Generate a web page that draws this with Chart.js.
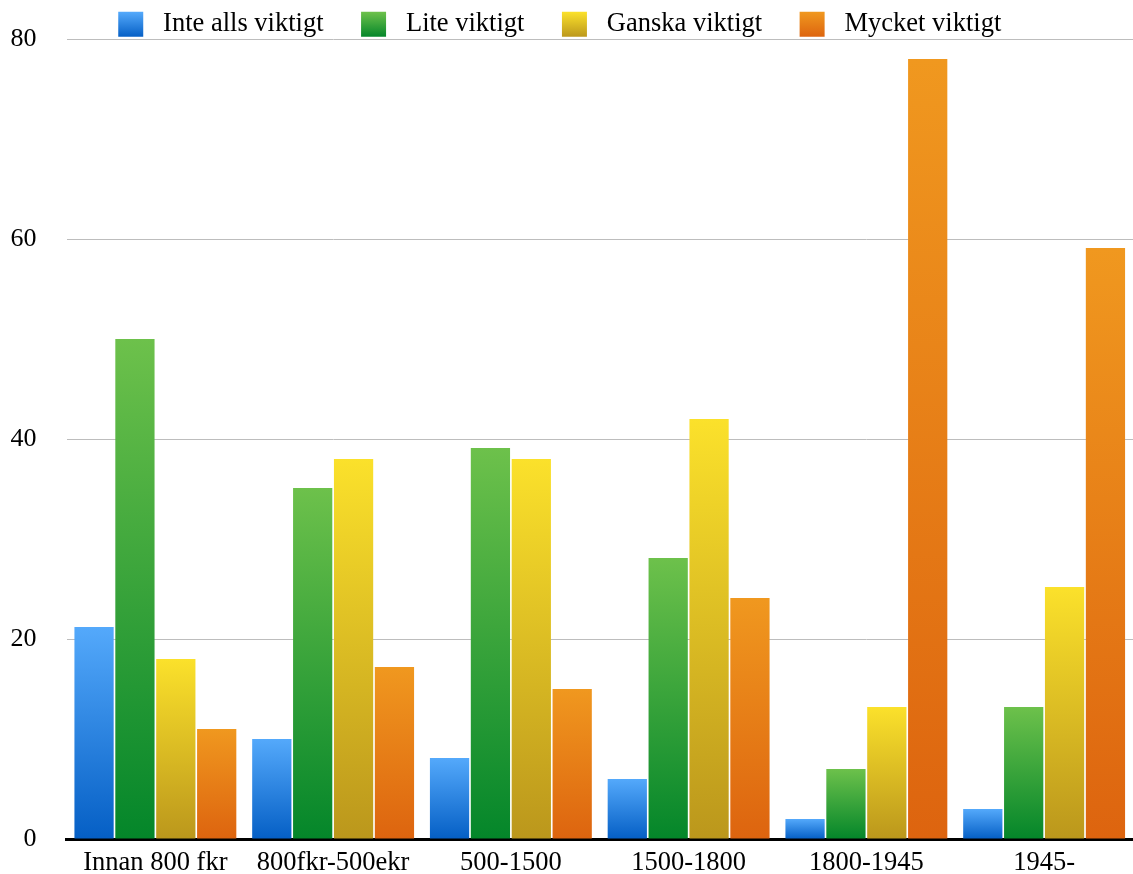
<!DOCTYPE html>
<html lang="sv">
<head>
<meta charset="utf-8">
<script src="https://cdn.jsdelivr.net/npm/chart.js@4.4.1/dist/chart.umd.min.js"></script>
<style>
  html, body { margin: 0; padding: 0; background: #fff; }
  #wrap { width: 1133px; height: 874px; }
</style>
</head>
<body>
<div id="wrap"><canvas id="chart" width="1133" height="874"></canvas></div>
<script>
const periods = ['Innan 800 fkr', '800fkr-500ekr', '500-1500', '1500-1800', '1800-1945', '1945-'];
const seriesNames = ['Inte alls viktigt', 'Lite viktigt', 'Ganska viktigt', 'Mycket viktigt'];
const inteAlls = [21.2, 10, 8.1, 6, 2, 3];
const lite = [50, 35.1, 39.1, 28.1, 7, 13.2];
const ganska = [18, 38, 38, 42, 13.2, 25.2];
const mycket = [11, 17.2, 15, 24.1, 78, 59.1];
const yTicks = [0, 20, 40, 60, 80];

// light top / dark bottom of each series
const shades = [
  ['#54a9fb', '#055fc5'],
  ['#6dc14b', '#04862a'],
  ['#fbe12b', '#bb971c'],
  ['#f0981f', '#dd640f']
];

const serif = '"Liberation Serif", "Times New Roman", serif';

// every bar gets its own gradient, from its top down to the zero line
function barFill(i) {
  return ctx => {
    const chart = ctx.chart;
    const y = chart.scales.y;
    if (ctx.type !== 'data' || !chart.chartArea || !y) return shades[i][1];
    const top = y.getPixelForValue(ctx.raw);
    const base = y.getPixelForValue(0);
    const g = chart.ctx.createLinearGradient(0, top, 0, base);
    g.addColorStop(0, shades[i][0]);
    g.addColorStop(1, shades[i][1]);
    return g;
  };
}

// legend boxes sit between y = 12 and 37
function legendLabels(chart) {
  return chart.data.datasets.map((ds, i) => {
    const g = chart.ctx.createLinearGradient(0, 12, 0, 37);
    g.addColorStop(0, shades[i][0]);
    g.addColorStop(1, shades[i][1]);
    return {
      text: ' ' + ds.label + '    ',
      fillStyle: g,
      strokeStyle: 'rgba(0,0,0,0)',
      lineWidth: 0,
      fontColor: '#000',
      hidden: false,
      datasetIndex: i
    };
  });
}

// drop the fixed strip Chart.js adds under a horizontal legend
const tightLegend = {
  id: 'tightLegend',
  afterInit(chart) {
    const legend = chart.legend;
    const fit = legend.fit;
    legend.fit = function () {
      fit.call(this);
      this.height -= 8.5;
    };
  }
};

const series = [inteAlls, lite, ganska, mycket];

new Chart(document.getElementById('chart'), {
  type: 'bar',
  data: {
    labels: periods,
    datasets: series.map((data, i) => ({
      label: seriesNames[i],
      data,
      backgroundColor: barFill(i),
      borderWidth: 0,
      categoryPercentage: 0.92,
      barPercentage: 0.96
    }))
  },
  options: {
    responsive: false,
    animation: false,
    layout: { padding: { top: 0, left: 11, right: -2, bottom: 0 } },
    plugins: {
      legend: {
        position: 'top',
        labels: {
          boxWidth: 25,
          boxHeight: 25,
          padding: 11,
          color: '#000',
          font: { family: serif, size: 26.5 },
          generateLabels: legendLabels
        }
      },
      tooltip: { enabled: false }
    },
    scales: {
      x: {
        grid: { display: false, drawTicks: false },
        border: { color: '#000', width: 3 },
        ticks: {
          color: '#000',
          font: { family: serif, size: 26.5, lineHeight: 1.1 },
          padding: 9,
          maxRotation: 0,
          autoSkip: false
        },
        afterFit: axis => {
          axis.paddingLeft = 0;
          axis.paddingRight = 0;
          axis.height = 35;
        }
      },
      y: {
        min: 0,
        max: 80,
        afterBuildTicks: axis => { axis.ticks = yTicks.map(v => ({ value: v })); },
        grid: { color: '#bdbdbd', lineWidth: 1, drawTicks: false },
        border: { display: false },
        ticks: {
          color: '#000',
          font: { family: serif, size: 26 },
          padding: 30
        },
        afterFit: axis => {
          axis.width = 55.5;
          axis.paddingTop = 0;
          axis.paddingBottom = 0;
        }
      }
    }
  },
  plugins: [tightLegend]
});
</script>
</body>
</html>
